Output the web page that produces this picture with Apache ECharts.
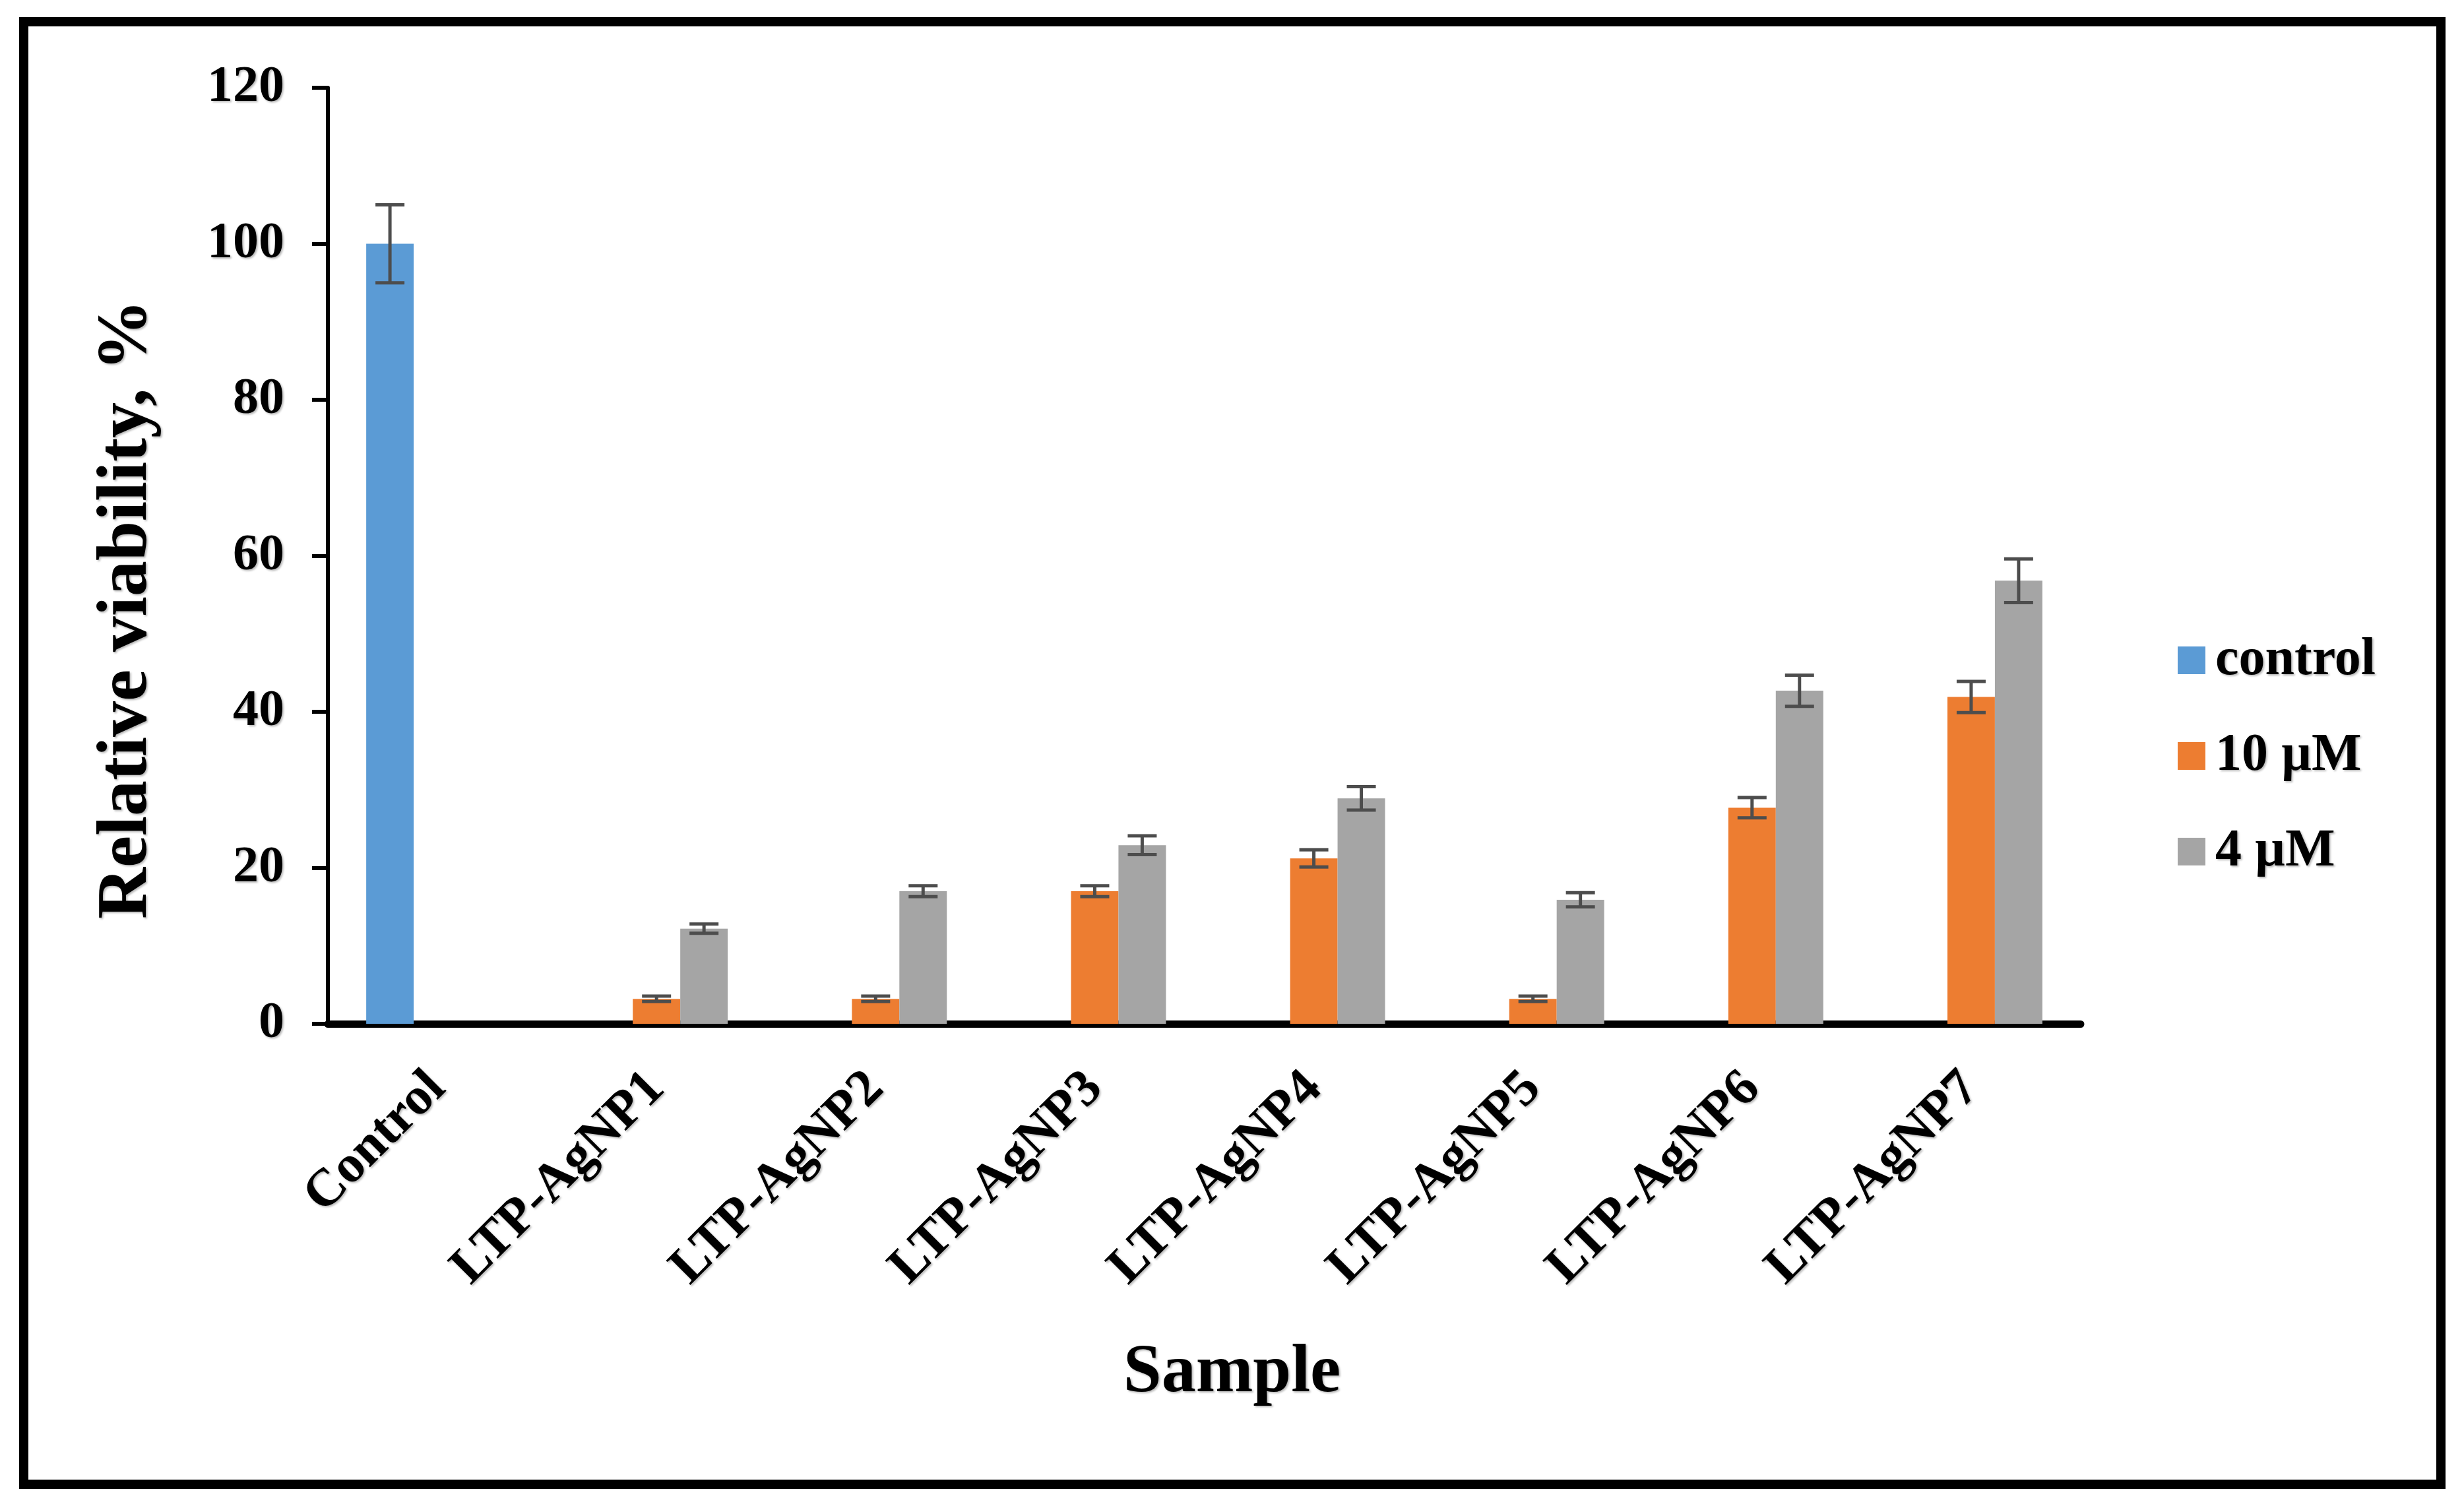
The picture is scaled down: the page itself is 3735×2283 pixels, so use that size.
<!DOCTYPE html>
<html>
<head>
<meta charset="utf-8">
<script src="https://cdn.jsdelivr.net/npm/echarts@6/dist/echarts.min.js"></script>
<style>
  html, body { margin: 0; padding: 0; background: #ffffff; }
  #chart { width: 3735px; height: 2283px; }
</style>
</head>
<body>
<div id="chart"></div>
<script>
// ---- data ----
const categories = ['Control', 'LTP-AgNP1', 'LTP-AgNP2', 'LTP-AgNP3', 'LTP-AgNP4', 'LTP-AgNP5', 'LTP-AgNP6', 'LTP-AgNP7'];
const seriesNames = ['control', '10 µM', '4 µM'];
const controlValues = [100, null, null, null, null, null, null, null];
const controlErrors = [5, null, null, null, null, null, null, null];
const tenValues = [null, 3.2, 3.2, 17, 21.2, 3.2, 27.7, 41.9];
const tenErrors = [null, 0.35, 0.35, 0.7, 1.1, 0.35, 1.3, 2.0];
const fourValues = [null, 12.2, 17, 22.9, 28.9, 15.9, 42.7, 56.8];
const fourErrors = [null, 0.6, 0.7, 1.2, 1.5, 0.9, 2.0, 2.8];
const yTicks = { min: 0, max: 120, interval: 20 };

const colors = ['#5B9BD5', '#ED7D31', '#A5A5A5'];
const FONT = '"Liberation Serif", "Times New Roman", serif';
const shadow = { textShadowColor: 'rgba(0,0,0,0.28)', textShadowBlur: 3, textShadowOffsetX: 2, textShadowOffsetY: 2 };
const CAT_GAP = 0.35;

const valueSets = [controlValues, tenValues, fourValues];
const errorSets = [controlErrors, tenErrors, fourErrors];

function errorData(vals, errs) {
  return categories.map((c, i) => (vals[i] == null ? [i, '-', '-'] : [i, vals[i], errs[i]]));
}

function makeErrorRenderer(slot) {
  return function (params, api) {
    const v = api.value(1);
    const e = api.value(2);
    if (isNaN(v) || isNaN(e)) return null;
    const idx = api.value(0);
    const band = api.size([1, 0])[0];
    const barW = band * (1 - CAT_GAP) / 3;
    const off = (slot - 1) * barW;
    const hi = api.coord([idx, v + e]);
    const lo = api.coord([idx, v - e]);
    const x = hi[0] + off;
    const cap = 22;
    const style = { stroke: '#4d4d4d', lineWidth: 5 };
    return {
      type: 'group',
      children: [
        { type: 'line', shape: { x1: x, y1: hi[1], x2: x, y2: lo[1] }, style: style },
        { type: 'line', shape: { x1: x - cap, y1: hi[1], x2: x + cap, y2: hi[1] }, style: style },
        { type: 'line', shape: { x1: x - cap, y1: lo[1], x2: x + cap, y2: lo[1] }, style: style }
      ]
    };
  };
}

const barSeries = seriesNames.map((name, k) => ({
  name: name,
  type: 'bar',
  data: valueSets[k],
  barGap: '0%',
  barCategoryGap: (CAT_GAP * 100) + '%',
  itemStyle: { color: colors[k] },
  z: 2
}));

const errSeries = seriesNames.map((name, k) => ({
  name: 'err-' + name,
  type: 'custom',
  renderItem: makeErrorRenderer(k),
  data: errorData(valueSets[k], errorSets[k]),
  encode: { x: 0, y: 1 },
  z: 5,
  silent: true
}));

const chart = echarts.init(document.getElementById('chart'), null, { renderer: 'canvas' });
chart.setOption({
  animation: false,
  backgroundColor: '#ffffff',
  grid: { left: 497, right: 581, top: 133, bottom: 731, containLabel: false },
  legend: {
    data: seriesNames,
    orient: 'vertical',
    left: 3296,
    top: 956,
    itemWidth: 42,
    itemHeight: 42,
    itemGap: 65,
    icon: 'rect',
    selectedMode: false,
    textStyle: Object.assign({ fontFamily: FONT, fontWeight: 'bold', fontSize: 80, lineHeight: 80, color: '#000', padding: [0, 0, 0, 10] }, shadow)
  },
  xAxis: {
    type: 'category',
    data: categories,
    name: 'Sample',
    nameLocation: 'middle',
    nameGap: 478,
    nameTextStyle: Object.assign({ fontFamily: FONT, fontWeight: 'bold', fontSize: 104, color: '#000', padding: [0, 0, 0, 84] }, shadow),
    axisLine: { show: true, lineStyle: { color: '#000', width: 11 } },
    axisTick: { show: false },
    axisLabel: Object.assign({ interval: 0, rotate: 45, margin: 86, fontFamily: FONT, fontWeight: 'bold', fontSize: 80, color: '#000' }, shadow),
    splitLine: { show: false }
  },
  yAxis: {
    type: 'value',
    min: yTicks.min,
    max: yTicks.max,
    interval: yTicks.interval,
    name: 'Relative viability, %',
    nameLocation: 'middle',
    nameGap: 250,
    nameTextStyle: Object.assign({ fontFamily: FONT, fontWeight: 'bold', fontSize: 108, color: '#000', padding: [0, 162, 0, 0] }, shadow),
    axisLine: { show: true, lineStyle: { color: '#000', width: 6 } },
    axisTick: { show: true, length: 24, lineStyle: { color: '#000', width: 6 } },
    axisLabel: Object.assign({ margin: 66, fontFamily: FONT, fontWeight: 'bold', fontSize: 78, color: '#000' }, shadow),
    splitLine: { show: false }
  },
  graphic: [
    {
      type: 'rect',
      shape: { x: 36, y: 33, width: 3664, height: 2217 },
      style: { fill: 'none', stroke: '#000', lineWidth: 14 },
      silent: true,
      z: 100
    }
  ],
  series: barSeries.concat(errSeries)
});
</script>
</body>
</html>
